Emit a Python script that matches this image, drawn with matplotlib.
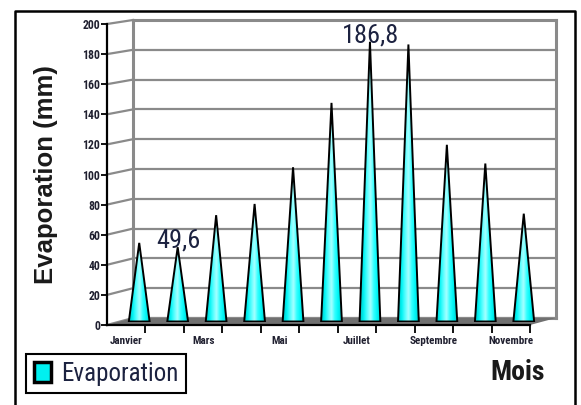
import numpy as np
import matplotlib
matplotlib.use("Agg")
import matplotlib.pyplot as plt
from matplotlib.patches import Polygon, Patch
from matplotlib.lines import Line2D
from matplotlib.colors import LinearSegmentedColormap

# Monthly evaporation (mm)
months = ["Janvier", "Février", "Mars", "Avril", "Mai", "Juin", "Juillet",
          "Août", "Septembre", "Octobre", "Novembre"]
evaporation = [52.5, 49.6, 71.0, 78.5, 103.0, 146.0, 186.8, 185.0, 118.0, 105.5, 72.0]
labelled = {1: "49,6", 6: "186,8"}
y_ticks = list(range(0, 201, 20))

NARROW = ["Roboto Condensed", "Liberation Sans", "DejaVu Sans"]
REG = ["Liberation Sans", "DejaVu Sans"]

W, H = 581, 405
fig = plt.figure(figsize=(W / 100, H / 100), dpi=100)
fig.patch.set_facecolor("white")


def rect(left, top, right, bottom):
    return [left / W, 1 - bottom / H, (right - left) / W, (bottom - top) / H]


n = len(months)
xlim = (-0.5, n - 0.5)

# three depth planes of the pseudo-3D box: back wall, mid (cones), front (axes)
ax_back = fig.add_axes(rect(133, 20, 556, 318))
ax_mid = fig.add_axes(rect(120, 22, 543, 321.5))
ax_front = fig.add_axes(rect(107, 24, 530, 325))
for a in (ax_back, ax_mid, ax_front):
    a.set_xlim(*xlim)
    a.set_ylim(0, 200)
    a.patch.set_alpha(0)

grid_col = "#8a8a8a"

# back wall: frame + horizontal gridlines
ax_back.set_xticks([])
ax_back.set_yticks(y_ticks)
ax_back.tick_params(left=False, labelleft=False)
ax_back.yaxis.grid(True, color=grid_col, lw=1.6)
for s in ax_back.spines.values():
    s.set_color(grid_col)
    s.set_linewidth(2.2)
ax_back.set_zorder(1)

# side wall diagonals and floor joining front and back planes
to_fig = fig.transFigure.inverted()


def pt(ax, x, y):
    return to_fig.transform(ax.transData.transform((x, y)))


for v in y_ticks:
    p0 = pt(ax_front, xlim[0], v)
    p1 = pt(ax_back, xlim[0], v)
    fig.add_artist(Line2D([p0[0], p1[0]], [p0[1], p1[1]], color=grid_col,
                          lw=1.6, transform=fig.transFigure, zorder=1.5))

floor = [pt(ax_front, xlim[0], 0), pt(ax_front, xlim[1], 0),
         pt(ax_back, xlim[1], 0), pt(ax_back, xlim[0], 0)]
fig.add_artist(Polygon(floor, closed=True, facecolor="#707070", edgecolor="none",
                       transform=fig.transFigure, zorder=1.6))

# cones
ax_mid.set_axis_off()
ax_mid.set_zorder(2)
cone_cmap = LinearSegmentedColormap.from_list(
    "cone", ["#00c4c4", "#00f2f2", "#50ffff", "#a8ffff", "#30ffff",
             "#00f4f4", "#00cccc"])
grad = np.linspace(0, 1, 64)[None, :]
half = 0.27
for i, v in enumerate(evaporation):
    tri = [(i - half, 0), (i + half, 0), (i, v)]
    im = ax_mid.imshow(grad, extent=[i - half, i + half, 0, v], aspect="auto",
                       cmap=cone_cmap, zorder=2, interpolation="bilinear")
    poly = Polygon(tri, closed=True, facecolor="none", edgecolor="black",
                   lw=1.4, joinstyle="miter", zorder=3)
    ax_mid.add_patch(poly)
    im.set_clip_path(poly)
    if i in labelled:
        ax_mid.annotate(labelled[i], (i, v), xytext=(0.5, -4), textcoords="offset points",
                        ha="center", va="bottom", fontsize=19, family=NARROW,
                        color="#1c2240", zorder=4)
ax_mid.set_xlim(*xlim)
ax_mid.set_ylim(0, 200)

# front axes: y axis with ticks, category axis
ax_front.set_zorder(3)
for side in ("top", "right"):
    ax_front.spines[side].set_visible(False)
ax_front.spines["left"].set_linewidth(1.6)
ax_front.spines["bottom"].set_linewidth(1.6)
ax_front.set_yticks(y_ticks)
ax_front.set_yticklabels([str(t) for t in y_ticks], family=NARROW,
                         fontweight="bold", fontsize=8.5, color="#202030")
ax_front.tick_params(axis="y", length=4, width=1.3, pad=1)
label_pos = list(range(0, n, 2))
ax_front.set_xticks(label_pos)
ax_front.set_xticklabels([months[i] for i in label_pos], family=NARROW,
                         fontweight="bold", fontsize=8, color="#202030")
ax_front.tick_params(axis="x", which="major", length=0, pad=8)
ax_front.set_xticks(np.arange(0.5, n, 1.0), minor=True)
ax_front.tick_params(axis="x", which="minor", length=6, width=1.3, direction="out")

# axis titles
fig.text(46 / W, 1 - 175 / H, "Evaporation (mm)", rotation=90, ha="center",
         va="center", fontsize=18.5, fontweight="bold", family=REG, color="#1a1a1a")
fig.text(518 / W, 1 - 372 / H, "Mois", ha="center", va="center", fontsize=20,
         fontweight="bold", family=NARROW, color="#1a1a1a")

# legend
handle = Patch(facecolor="#00f0f0", edgecolor="black", lw=2.5)
leg = fig.legend([handle], ["Evaporation"], loc="lower left",
                 bbox_to_anchor=(26 / W, 1 - 393 / H), bbox_transform=fig.transFigure,
                 frameon=True, fancybox=False, edgecolor="black", framealpha=1,
                 prop={"family": NARROW, "size": 18}, handlelength=0.7,
                 handleheight=0.85, handletextpad=0.4, borderpad=0.3,
                 borderaxespad=0)
leg.get_frame().set_linewidth(1.5)
leg.get_texts()[0].set_color("#1c2240")

# outer border (left, top, right)
fig.add_artist(Line2D([15 / W, 15 / W, 575 / W, 575 / W],
                      [0, 1 - 11 / H, 1 - 11 / H, 0], color="black", lw=1.8,
                      transform=fig.transFigure))

fig.savefig("out.png", dpi=100)
